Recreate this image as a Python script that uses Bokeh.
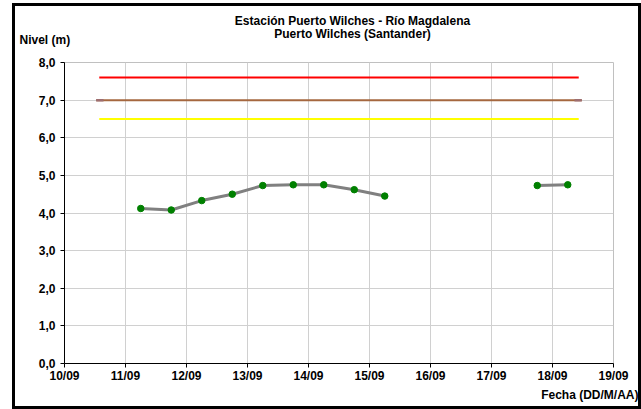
from bokeh.plotting import figure
from bokeh.models import Range1d, FixedTicker, Title, Label
from bokeh.embed import file_html
from bokeh.resources import INLINE

# ---------------- data ----------------
title_line1 = "Estación Puerto Wilches - Río Magdalena"
title_line2 = "Puerto Wilches (Santander)"
y_title = "Nivel (m)"
x_title = "Fecha (DD/M/AA)"

# time in days of September (day number + fraction of day)
obs_time = [11.25, 11.75, 12.25, 12.75, 13.25, 13.75, 14.25, 14.75, 15.25, 17.75, 18.25]
obs_level = [4.12, 4.08, 4.33, 4.50, 4.73, 4.75, 4.75, 4.62, 4.45, 4.73, 4.75]

x_ticks = [10, 11, 12, 13, 14, 15, 16, 17, 18, 19]
x_tick_labels = ["10/09", "11/09", "12/09", "13/09", "14/09", "15/09", "16/09", "17/09", "18/09", "19/09"]
y_ticks = [0, 1, 2, 3, 4, 5, 6, 7, 8]
y_tick_labels = ["0,0", "1,0", "2,0", "3,0", "4,0", "5,0", "6,0", "7,0", "8,0"]

threshold_levels = [7.6, 7.0, 6.5]
threshold_start = [10.57, 10.52, 10.57]
threshold_end = [18.43, 18.48, 18.43]

RED, BROWN, YELLOW = "#FF0000", "#A5673F", "#FFFF00"
threshold_colors = [RED, BROWN, YELLOW]

FONT = "Liberation Sans"
FS = "12px"

p = figure(width=641, height=409, output_backend="svg", toolbar_location=None,
           x_range=Range1d(10, 19), y_range=Range1d(0, 8), title_location=None,
           min_border_left=64, min_border_right=28, min_border_top=62, min_border_bottom=46)
p.background_fill_color = "white"
p.border_fill_color = None
p.outline_line_color = "#C0C0C0"
p.outline_line_width = 1
p.styles = {
    "background-color": "white",
    "box-shadow": ("inset 12px 0 0 0 white, inset 0 3px 0 0 white, "
                   "inset 15px 0 0 0 black, inset 0 6px 0 0 black, "
                   "inset -3px 0 0 0 black, inset 0 -3px 0 0 black"),
}

# axes
p.xaxis.ticker = FixedTicker(ticks=x_ticks)
p.yaxis.ticker = FixedTicker(ticks=y_ticks)
p.xaxis.major_label_overrides = {t: l for t, l in zip(x_ticks, x_tick_labels)}
p.yaxis.major_label_overrides = {t: l for t, l in zip(y_ticks, y_tick_labels)}
for ax in (p.xaxis[0], p.yaxis[0]):
    ax.axis_line_color = "black"
    ax.axis_line_width = 1
    ax.major_tick_line_color = "black"
    ax.major_tick_out = 4
    ax.major_tick_in = 0
    ax.minor_tick_out = 0
    ax.minor_tick_in = 0
    ax.major_label_text_font = FONT
    ax.major_label_text_font_style = "bold"
    ax.major_label_text_font_size = FS
    ax.major_label_text_color = "black"
p.xaxis.major_label_standoff = 1
p.yaxis.major_label_standoff = 5

p.xgrid.grid_line_color = "#D0D0D0"
p.ygrid.grid_line_color = "#D0D0D0"

# threshold lines
for lvl, x0, x1, col in zip(threshold_levels, threshold_start, threshold_end, threshold_colors):
    p.line([x0, x1], [lvl, lvl], line_color=col, line_width=2)
    if col == BROWN:
        p.line([x0, x0 + 0.12], [lvl, lvl], line_color="#9E6E70", line_width=2.5)
        p.line([x1 - 0.12, x1], [lvl, lvl], line_color="#9E6E70", line_width=2.5)

# observed series, broken where there's a gap in the record
seg_x, seg_y = [], []
for i, (t, v) in enumerate(zip(obs_time, obs_level)):
    if i > 0 and t - obs_time[i - 1] > 1:
        seg_x.append(float("nan"))
        seg_y.append(float("nan"))
    seg_x.append(t)
    seg_y.append(v)
p.line(seg_x, seg_y, line_color="#808080", line_width=3)
p.scatter(obs_time, obs_level, size=6.5, fill_color="#008000", line_color="#008000")

# texts above the frame: each label sits in its own panel (first added = nearest the frame);
# screen units are measured from the left/bottom of that panel
def mk_label(txt, x, y, align):
    return Label(x=x, y=y, x_units="screen", y_units="screen", text=txt,
                 text_align=align, text_baseline="middle", text_font=FONT,
                 text_font_style="bold", text_font_size=FS, text_color="black")

p.add_layout(mk_label(y_title, -45, 23, "left"), "above")
p.add_layout(mk_label(title_line2, 288, 14.5, "center"), "above")
p.add_layout(mk_label(title_line1, 288, 14, "center"), "above")

p.add_layout(Title(text=x_title, align="right", offset=-25, standoff=4, vertical_align="top",
                   text_font=FONT, text_font_style="bold", text_font_size=FS,
                   text_color="black"), "below")

open("out.html", "w").write(file_html(p, INLINE))
